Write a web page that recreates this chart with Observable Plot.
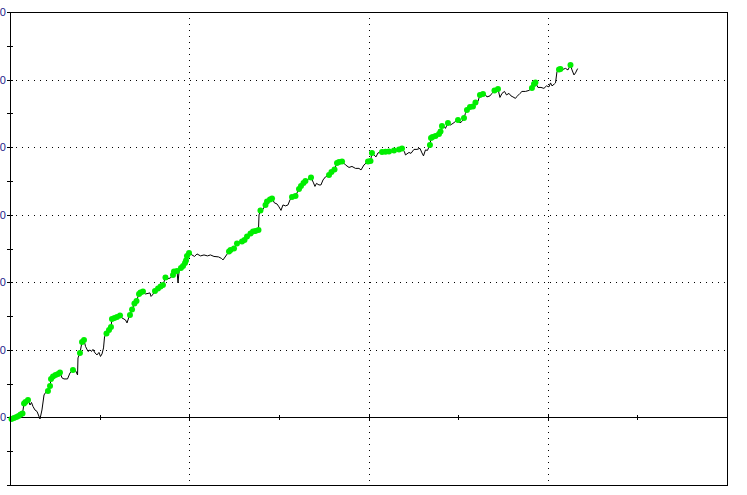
<!DOCTYPE html>
<html>
<head>
<meta charset="utf-8">
<script src="https://cdn.jsdelivr.net/npm/d3@7"></script>
<script src="https://cdn.jsdelivr.net/npm/@observablehq/plot@0.6"></script>
<style>
  html, body { margin: 0; padding: 0; background: #ffffff; overflow: hidden; }
  #chart svg { display: block; }
</style>
</head>
<body>
<div id="chart"></div>
<script>
// Time position of each equity point (arbitrary day units, 0..800)
const day = [
  1.1, 3.9, 6.7, 8.9, 11.2, 13.4, 15.1, 16.7, 19.5, 21.8,
  23.4, 25.1, 27.3, 29.6, 32.9, 35.1, 37.4, 39.6, 41.8, 44.1,
  45.2, 47.4, 50.2, 53.0, 55.2, 57.5, 59.7, 63.6, 66.4, 69.7,
  72.5, 74.8, 75.3, 77.5, 79.8, 82.0, 83.7, 86.5, 88.7, 90.4,
  92.0, 94.3, 96.5, 98.7, 100.4, 102.1, 103.8, 104.9, 107.1, 109.9,
  112.1, 113.2, 116.0, 118.8, 122.2, 124.4, 128.3, 130.0, 132.2, 133.3,
  135.6, 138.3, 140.6, 143.4, 145.0, 147.8, 150.6, 153.4, 155.6, 156.8,
  158.4, 161.2, 164.6, 167.4, 170.1, 172.9, 175.2, 178.5, 181.3, 182.4,
  185.8, 186.9, 188.0, 190.2, 192.5, 194.7, 195.8, 196.9, 199.2, 202.5,
  205.3, 208.1, 212.0, 215.9, 219.8, 223.1, 227.0, 232.1, 235.4, 237.1,
  243.8, 245.5, 249.4, 252.7, 258.3, 261.1, 263.9, 267.8, 270.6, 273.3,
  276.7, 277.3, 278.9, 281.2, 284.5, 286.2, 289.5, 291.8, 294.5, 297.3,
  299.6, 301.8, 304.0, 306.8, 309.6, 311.8, 314.1, 318.0, 321.9, 324.1,
  326.9, 329.1, 335.3, 338.1, 339.7, 341.4, 344.2, 346.4, 348.7, 351.4,
  355.4, 358.1, 361.5, 364.3, 366.5, 369.9, 373.8, 377.7, 381.0, 384.9,
  388.8, 391.1, 394.4, 398.9, 401.7, 403.3, 405.6, 407.8, 410.0, 414.5,
  418.4, 422.3, 427.9, 433.5, 436.8, 439.6, 440.7, 444.6, 446.8, 450.2,
  453.5, 456.9, 459.1, 460.8, 463.0, 465.2, 468.0, 469.2, 470.8, 474.2,
  478.1, 479.8, 481.4, 484.2, 485.3, 488.1, 490.9, 493.7, 496.5, 499.3,
  501.5, 503.7, 506.0, 507.6, 509.3, 512.7, 516.0, 518.8, 521.6, 523.8,
  527.2, 530.0, 531.6, 535.0, 537.2, 540.0, 543.9, 546.1, 548.4, 551.2,
  553.4, 556.2, 558.4, 560.6, 563.4, 565.1, 568.5, 570.7, 574.6, 578.5,
  581.8, 584.1, 585.7, 588.5, 591.9, 595.2, 598.0, 600.8, 602.5, 604.2,
  606.9, 608.1, 609.7, 612.0, 613.6, 616.4, 619.2, 622.0, 624.8, 626.5,
  628.7, 630.4, 632.6
];

// Cumulative equity value at each point
const equity = [
  -15, 0, 15, 30, 52, 67, 215, 237, 266, 192,
  229, 170, 118, 96, -15, 118, 340, 385, 400, 474,
  577, 614, 636, 651, 673, 592, 577, 577, 666, 710,
  703, 636, 888, 962, 1125, 1154, 1058, 984, 1006, 984,
  1014, 962, 932, 969, 910, 947, 1036, 1199, 1251, 1302,
  1347, 1465, 1480, 1495, 1517, 1480, 1450, 1406, 1495, 1524,
  1606, 1695, 1732, 1835, 1857, 1872, 1835, 1843, 1850, 1798,
  1820, 1880, 1917, 1946, 1968, 2079, 2057, 2072, 2116, 2168,
  2176, 1998, 2161, 2220, 2250, 2294, 2331, 2398, 2442, 2412,
  2390, 2427, 2398, 2412, 2398, 2412, 2390, 2383, 2361, 2338,
  2464, 2486, 2509, 2583, 2612, 2634, 2686, 2731, 2760, 2768,
  2782, 3004, 3071, 3078, 3152, 3204, 3234, 3249, 3182, 3167,
  3123, 3071, 3152, 3138, 3152, 3226, 3271, 3286, 3389, 3434,
  3478, 3508, 3559, 3478, 3426, 3471, 3448, 3448, 3522, 3567,
  3596, 3641, 3678, 3774, 3789, 3796, 3744, 3707, 3722, 3693,
  3693, 3670, 3744, 3796, 3804, 3922, 3892, 3863, 3922, 3937,
  3940, 3944, 3959, 3974, 3989, 3937, 3892, 3929, 3915, 3974,
  3974, 3989, 3922, 3878, 3966, 3959, 4040, 4144, 4159, 4174,
  4203, 4240, 4322, 4307, 4285, 4366, 4336, 4359, 4388, 4410,
  4366, 4388, 4440, 4507, 4558, 4603, 4610, 4669, 4684, 4780,
  4795, 4780, 4751, 4766, 4803, 4847, 4869, 4743, 4803, 4832,
  4780, 4803, 4766, 4751, 4729, 4758, 4803, 4832, 4832, 4847,
  4884, 4943, 4965, 4891, 4891, 4877, 4914, 4899, 4958, 4914,
  4943, 4958, 5121, 5158, 5165, 5158, 5173, 5150, 5224, 5150,
  5076, 5106, 5165
];

// Indices of points marked as new equity highs (green markers)
const newHighIdx = [
  0, 1, 2, 3, 4, 5, 6, 7, 8, 18, 19, 20, 21, 22, 23, 24, 29, 33, 34, 35,
  48, 49, 50, 51, 52, 53, 54, 59, 60, 61, 62, 63, 64, 65, 71, 72, 73, 74, 75,
  78, 79, 80, 83, 84, 85, 86, 87, 88, 100, 101, 102, 103, 104, 105, 106, 107,
  108, 109, 110, 112, 114, 115, 116, 117, 126, 127, 128, 129, 130, 131, 132,
  140, 141, 142, 143, 144, 145, 153, 154, 155, 159, 160, 161, 162, 163, 164,
  176, 177, 178, 179, 180, 181, 182, 185, 189, 192, 194, 195, 196, 197, 199,
  200, 205, 206, 220, 221, 222, 233, 234, 238
];

// Axis / grid values
const xDomain = [0, 800];
const yDomain = [-1000, 6000];
const xGridValues = [200, 400, 600];
const xTickValues = [100, 200, 300, 400, 500, 600, 700];
const yGridValues = [1000, 2000, 3000, 4000, 5000];
const yLabelValues = [0, 1000, 2000, 3000, 4000, 5000, 6000];
const yTickValues = [-1000, -500, 0, 500, 1000, 1500, 2000, 2500, 3000, 3500, 4000, 4500, 5000, 5500, 6000];

const n = Math.min(day.length, equity.length);
const highSet = new Set(newHighIdx);
const series = d3.range(n).map(i => ({ day: day[i], equity: equity[i], high: highSet.has(i) }));

const chart = Plot.plot({
  width: 747,
  height: 495,
  marginLeft: 10,
  marginTop: 12,
  marginRight: 20,
  marginBottom: 10,
  x: { domain: xDomain, axis: null },
  y: { domain: yDomain, axis: null },
  style: { fontFamily: "'Liberation Sans', Arial, sans-serif", fontSize: "11px", background: "#ffffff" },
  marks: [
    Plot.ruleY(yGridValues, { stroke: "#000", strokeWidth: 1, strokeDasharray: "1,5", shapeRendering: "crispEdges" }),
    Plot.ruleX(xGridValues, { stroke: "#000", strokeWidth: 1, strokeDasharray: "1,5", shapeRendering: "crispEdges" }),
    Plot.ruleY([0], { stroke: "#000", strokeWidth: 1, shapeRendering: "crispEdges" }),
    Plot.ruleX(xTickValues, { y1: -38, y2: 38, stroke: "#000", strokeWidth: 1, shapeRendering: "crispEdges" }),
    Plot.ruleY(yTickValues, { x1: -3, x2: 3, stroke: "#000", strokeWidth: 1, shapeRendering: "crispEdges" }),
    Plot.axisY({ ticks: yLabelValues, tickSize: 0, tickPadding: 4.5, label: null, fill: "#1e1e8c", fontSize: 11, tickFormat: d => String(d) }),
    Plot.line(series, { x: "day", y: "equity", stroke: "#000", strokeWidth: 1 }),
    Plot.dot(series.filter(d => d.high), { x: "day", y: "equity", r: 3, fill: "#00ee00", stroke: "none" }),
    Plot.frame({ stroke: "#000", strokeWidth: 1, shapeRendering: "crispEdges" })
  ]
});

document.getElementById("chart").appendChild(chart);
</script>
</body>
</html>
